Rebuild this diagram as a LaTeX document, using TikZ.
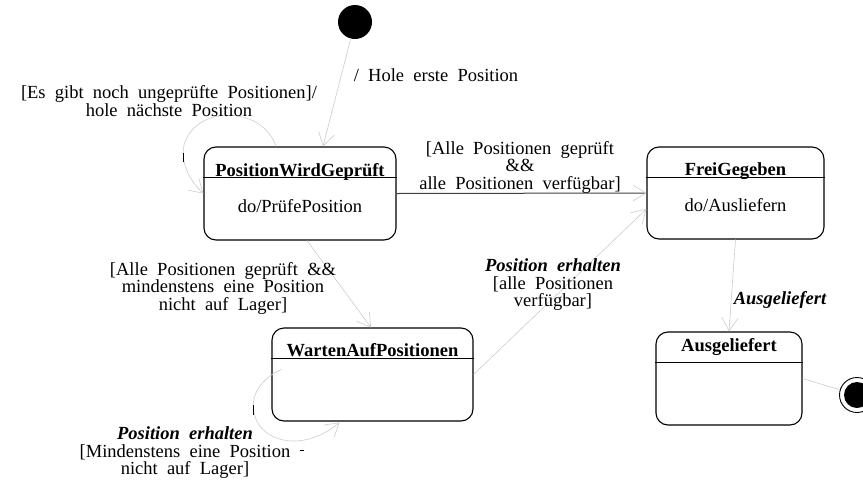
\documentclass[tikz,border=0pt]{standalone}
\usepackage{fontspec}
\setmainfont{Liberation Serif}[WordSpace=2]
\usetikzlibrary{arrows.meta,calc}
\definecolor{edgegray}{gray}{0.8}
\definecolor{darkedge}{gray}{0.25}
\begin{document}
\begin{tikzpicture}[x=1pt,y=-1pt,
  font=\fontsize{18.5}{17.5}\selectfont,
  statebox/.style={draw=black, line width=1.1pt, rounded corners=12pt, inner sep=0pt},
  title/.style={font=\fontsize{18.5}{17.5}\selectfont\bfseries, inner sep=0pt, anchor=base},
  body/.style={inner sep=0pt, anchor=base},
  divider/.style={line width=1.1pt},
  lbl/.style={align=center, inner sep=0pt},
  evt/.style={font=\fontsize{18.5}{17.5}\selectfont\bfseries\itshape, inner sep=0pt},
  edge/.style={draw=edgegray, line width=0.6pt,
    -{Straight Barb[length=13pt,width=16pt,color=edgegray,line width=0.6pt]}},
  mainedge/.style={draw=darkedge, line width=1pt,
    -{Straight Barb[length=13pt,width=16pt,color=edgegray,line width=0.6pt]}},
  plainedge/.style={draw=edgegray, line width=0.6pt},
  tick/.style={line width=0.9pt},
]
\useasboundingbox (0,0) rectangle (863,483);

% pseudo states
\node[circle, fill=black, minimum size=34pt, inner sep=0pt] (init) at (355,22) {};
\node[circle, draw=black, line width=0.9pt, minimum size=35pt, inner sep=0pt] (final) at (857,395) {};
\node[circle, fill=black, minimum size=26pt, inner sep=0pt] (finalcore) at (final) {};

% states
\node[statebox, minimum width=192pt, minimum height=93pt] (pwg) at (300,193.5) {};
\node[title] (pwgT) at (300,176) {PositionWirdGeprüft};
\node[body] (pwgB) at (300,212.5) {do/PrüfePosition};
\draw[divider] ($(pwg.north west)+(0,31)$) -- ($(pwg.north east)+(0,31)$);

\node[statebox, minimum width=177pt, minimum height=92pt] (fg) at (735.5,193) {};
\node[title] (fgT) at (735.5,175) {FreiGegeben};
\node[body] (fgB) at (735.5,211.5) {do/Ausliefern};
\draw[divider] ($(fg.north west)+(0,31)$) -- ($(fg.north east)+(0,31)$);

\node[statebox, minimum width=201pt, minimum height=93pt] (wap) at (372.5,374.5) {};
\node[title] (wapT) at (372.5,356) {WartenAufPositionen};
\draw[divider] ($(wap.north west)+(0,31)$) -- ($(wap.north east)+(0,31)$);

\node[statebox, minimum width=146pt, minimum height=93pt] (al) at (729,378.5) {};
\node[title] (alT) at (729,351) {Ausgeliefert};
\draw[divider] ($(al.north west)+(0,31)$) -- ($(al.north east)+(0,31)$);

% transitions
\draw[edge] (init) -- ($(pwg.north)+(23,0)$);
\draw[edge] ($(pwg.north)+(-24,0)$) .. controls (262,105) and (195,105) .. (184,145)
  .. controls (180,165) and (192,183) .. (pwg.west);
\draw[mainedge] (pwg.east) -- (fg.west);
\draw[edge] ($(pwg.south)+(7,0)$) -- ($(wap.north)+(-1.5,0)$);
\draw[edge] (wap.east) -- ($(fg.west)+(0,16)$);
\draw[edge] ($(wap.north west)+(10,42)$) .. controls (262,378) and (250,395) .. (254,412)
  .. controls (258,440) and (300,455) .. ($(wap.south west)+(68,1)$);
\draw[edge] (fg.south) -- (al.north);
\draw[plainedge] (al.east) -- (final);

% small marks
\draw[tick] (183,153) -- (183,162);
\draw[tick] (253,405) -- (253,415);
\draw[tick] (300,450) -- (304,450);

% transition labels
\node[lbl] (l1) at (436,75) {/ Hole erste Position};
\node[lbl, font=\fontsize{18.5}{15}\selectfont] (l2) at (169,101)
  {[Es gibt noch ungeprüfte Positionen]/\\hole nächste Position};
\node[lbl] (l3) at (520,167)
  {[Alle Positionen geprüft\\\&\&\\alle Positionen verfügbar]};
\node[lbl] (l4) at (223,288)
  {[Alle Positionen geprüft \&\&\\mindenstens eine Position\\nicht auf Lager]};
\node[lbl] (l5) at (553,285)
  {{\bfseries\itshape Position erhalten}\\{[}alle Positionen\\verfügbar]};
\node[lbl] (l6) at (185,453)
  {{\bfseries\itshape Position erhalten}\\{[}Mindenstens eine Position\\nicht auf Lager]};
\node[evt] (l7) at (780,300) {Ausgeliefert};
\end{tikzpicture}
\end{document}
